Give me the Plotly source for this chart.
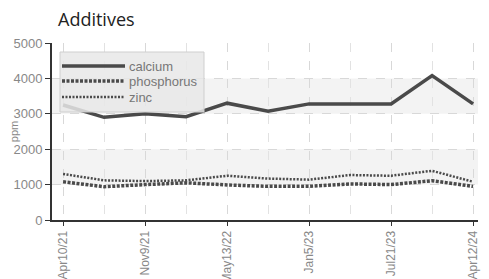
import plotly.graph_objects as go

dates = ["Apr10/21", "Jul25/21", "Nov9/21", "Feb10/22", "May13/22", "Sep8/22",
         "Jan5/23", "Apr14/23", "Jul21/23", "Nov30/23", "Apr12/24"]
calcium = [3250, 2900, 3000, 2920, 3300, 3070, 3280, 3280, 3280, 4080, 3280]
phosphorus = [1080, 940, 1000, 1050, 990, 950, 950, 1020, 1000, 1110, 950]
zinc = [1300, 1120, 1100, 1120, 1250, 1170, 1140, 1270, 1250, 1390, 1080]
tick_labels = ["Apr10/21", "Nov9/21", "May13/22", "Jan5/23", "Jul21/23", "Apr12/24"]
series_names = ["calcium", "phosphorus", "zinc"]

idx = list(range(len(dates)))
line_col = "#4a4a4a"
font_ax = "Liberation Sans, Arial, sans-serif"

# page body has an 8px default margin; work in page pixels
OFF = 8
W, H = 489 - OFF, 279 - OFF
L, T = 52 - OFF, 43 - OFF
R, B = 489 - 478, 279 - 220
pw, ph = W - L - R, H - T - B

def px(x):
    return (x - OFF - L) / pw

def py(y):
    return 1 - (y - OFF - T) / ph

styles = [dict(color=line_col, width=3.5),
          dict(color=line_col, width=3.5, dash="3px,1.5px"),
          dict(color=line_col, width=2.5, dash="2px,1.5px")]

fig = go.Figure()
for name, vals, st in zip(series_names, [calcium, phosphorus, zinc], styles):
    fig.add_trace(go.Scatter(x=idx, y=vals, name=name, mode="lines", line=st, text=dates,
                             showlegend=False))

for y0, y1 in [(1000, 2000), (3000, 4000)]:
    fig.add_shape(type="rect", xref="paper", yref="y", x0=0, x1=1, y0=y0, y1=y1,
                  fillcolor="#f3f3f3", line_width=0, layer="below")

# legend box
fig.add_shape(type="rect", xref="paper", yref="paper", x0=px(60), x1=px(204), y0=py(52), y1=py(112),
              fillcolor="rgba(232,232,232,0.85)", line=dict(color="#cfcfcf", width=1), layer="above")
rows = [66, 81, 97]
for name, st, yr in zip(series_names, styles, rows):
    fig.add_shape(type="line", xref="paper", yref="paper", x0=px(62), x1=px(125), y0=py(yr), y1=py(yr),
                  line=st, layer="above")
    fig.add_annotation(text=name, xref="paper", yref="paper", x=px(127), y=py(yr),
                       xanchor="left", yanchor="middle", showarrow=False,
                       font=dict(family=font_ax, size=13, color="#777"))

tickvals = [dates.index(t) for t in tick_labels]

fig.update_layout(
    width=W, height=H,
    margin=dict(l=L, r=R, t=T, b=B),
    paper_bgcolor="white", plot_bgcolor="white",
    title=dict(text="Additives", x=(58 - OFF) / W, xanchor="left", y=1 - (20 - OFF) / H,
               yanchor="middle", automargin=False,
               font=dict(family="Open Sans, sans-serif", size=18, color="#222")),
    showlegend=False,
    xaxis=dict(range=[-0.27, 10.12], tickmode="array", tickvals=tickvals, ticktext=tick_labels,
               tickangle=-90, ticks="outside", ticklen=4, tickcolor="#333", automargin=False,
               showline=True, linecolor="#333", linewidth=2,
               showgrid=True, gridcolor="#d8d8d8", griddash="dash", gridwidth=1,
               minor=dict(dtick=1, tick0=0, showgrid=True, gridcolor="#e2e2e2", griddash="dash"),
               zeroline=False,
               tickfont=dict(family=font_ax, size=12, color="#888")),
    yaxis=dict(range=[0, 5000], dtick=1000, ticks="outside", ticklen=5, tickcolor="#333",
               automargin=False,
               showline=True, linecolor="#333", linewidth=2,
               showgrid=True, gridcolor="#d8d8d8", griddash="dash", zeroline=False,
               title=dict(text="ppm", standoff=9, font=dict(family=font_ax, size=11, color="#888")),
               tickfont=dict(family=font_ax, size=13, color="#888")),
)

fig.write_html("out.html")
